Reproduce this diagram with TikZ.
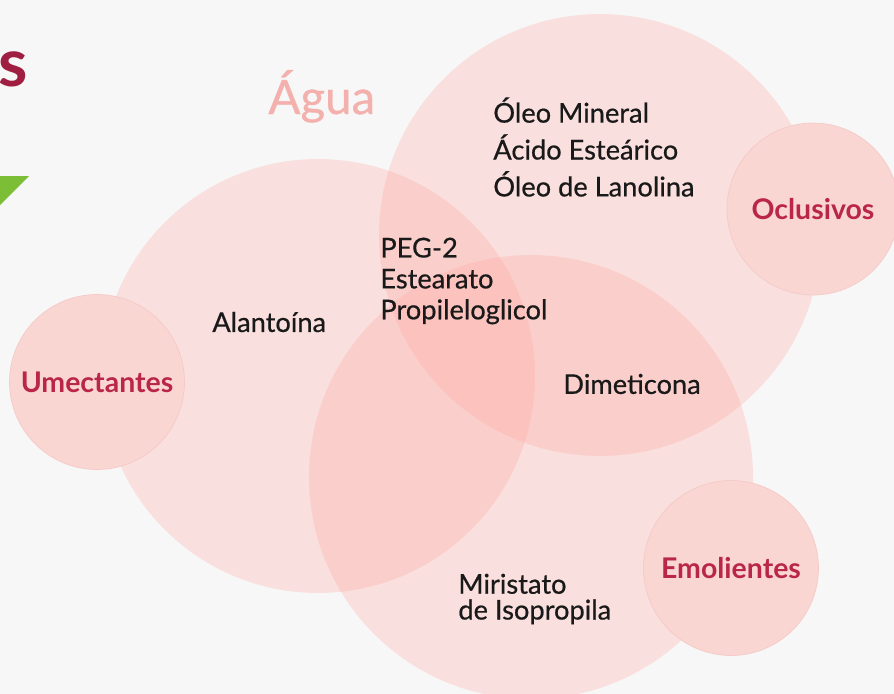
\documentclass[tikz,border=0pt]{standalone}
\usepackage{fontspec}
\setmainfont{Lato}
\newfontfamily\midfont{Lato}[FakeBold=0.6]
\definecolor{bgcol}{RGB}{247,247,247}
\definecolor{vennpink}{RGB}{255,168,162}
\definecolor{dotpink}{RGB}{250,214,211}
\definecolor{dotedge}{RGB}{244,202,199}
\definecolor{labred}{RGB}{185,38,72}
\definecolor{titlered}{RGB}{160,30,65}
\definecolor{aguapink}{RGB}{243,176,173}
\definecolor{inktext}{RGB}{25,25,25}
\definecolor{leafgreen}{RGB}{125,190,55}
\tikzset{
  bigdisc/.style={circle, inner sep=0pt, fill=vennpink, fill opacity=.3, minimum size=#1},
  smalldisc/.style={circle, inner sep=0pt, fill=dotpink, draw=dotedge, line width=.4pt,
    minimum size=3.5cm, text=labred, font=\fontsize{16.2}{18}\selectfont\bfseries},
  item/.style={anchor=west, align=left, inner sep=0pt, text=inktext,
    font=\midfont\fontsize{15.5}{#1}\selectfont},
  item/.default=21
}
\begin{document}
\begin{tikzpicture}[x=0.02cm,y=-0.02cm]
        \fill [bgcol] (0,0) rectangle (894,694);
        \clip (0,0) rectangle (894,694);
        % big circles
        \node [bigdisc=8.68cm] (agua) at (318,376) {};
        \node [bigdisc=8.84cm] (oleos) at (600,235) {};
        \node [bigdisc=8.88cm] (emol) at (531,477) {};
        % small circles
        \node [smalldisc] (umect) at (97,382) {Umectantes};
        \node [smalldisc, minimum size=3.44cm] (oclus) at (813,209) {Oclusivos};
        \node [smalldisc] (emolabel) at (731,568) {Emolientes};
        % title pieces
        \node [anchor=base east, inner sep=0pt, text=titlered,
               font=\fontsize{38}{38}\selectfont\bfseries] (title) at (28,86) {s};
        \fill [leafgreen] (0,176) -- (29,176) -- (0,205) -- cycle;
        \node [anchor=base west, inner sep=0pt, text=aguapink,
               font=\midfont\fontsize{27}{30}\selectfont] (aguatxt) at (268,114) {Água};
        % ingredients
        \node [item] (oleo) at (493,147) {Óleo Mineral\\Ácido Esteárico\\Óleo de Lanolina};
        \node [item=17.6] (peg) at (380,281) {PEG-2\\Estearato\\Propileloglicol};
        \node [item] (alanto) at (212,322) {Alantoína};
        \node [item] (dimet) at (563,384) {Dimeticona};
        \node [item=14.7] (miris) at (458,599) {Miristato\\de Isopropila};
\end{tikzpicture}
\end{document}
